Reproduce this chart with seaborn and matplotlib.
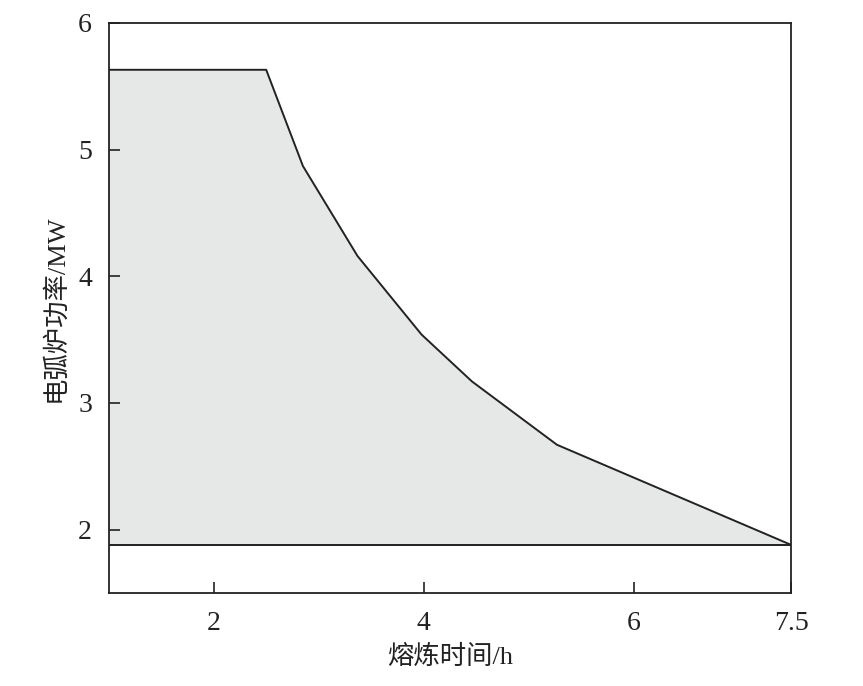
import matplotlib
matplotlib.use("Agg")
import matplotlib.pyplot as plt
import pandas as pd
import seaborn as sns

sns.set_style("white")
plt.rcParams['font.family'] = ['Liberation Serif', 'Noto Sans CJK SC']
plt.rcParams['axes.axisbelow'] = False  # keep inward ticks above the grey fill

melt_time = [1.0, 2.5, 2.85, 3.37, 3.98, 4.46, 5.27, 7.5]
eaf_power = [5.63, 5.63, 4.87, 4.16, 3.54, 3.17, 2.67, 1.88]
base_power = 1.88

x_ticks = [2, 4, 6, 7.5]
x_ticklabels = ['2', '4', '6', '7.5']
y_ticks = [2, 3, 4, 5, 6]

df = pd.DataFrame({'time': melt_time, 'power': eaf_power})

fig = plt.figure(figsize=(8.63, 6.86), dpi=100)
ax = fig.add_axes([0.126, 0.1356, 0.7906, 0.831])
ax.set_axisbelow(False)

ax.fill_between(df['time'], base_power, df['power'], color='#e6e7e7', linewidth=0)
sns.lineplot(x='time', y='power', data=df, color='#222222', linewidth=1.4, sort=False, ax=ax)
ax.axhline(base_power, color='#222222', linewidth=1.4)

ax.set_xlim(1, 7.5)
ax.set_ylim(1.5, 6)
ax.set_xticks(x_ticks)
ax.set_xticklabels(x_ticklabels)
ax.set_yticks(y_ticks)
ax.xaxis.set_ticks_position('bottom')
ax.yaxis.set_ticks_position('left')
ax.tick_params(axis='x', which='major', labelsize=20, length=8, width=1.2,
               colors='#222222', direction='in', pad=13)
ax.tick_params(axis='y', which='major', labelsize=20, length=8, width=1.2,
               colors='#222222', direction='in', pad=12)

for s in ax.spines.values():
    s.set_color('#222222')
    s.set_linewidth(1.3)

ax.set_xlabel('熔炼时间/h', fontsize=19, color='#222222', labelpad=6)
ax.set_ylabel('电弧炉功率/MW', fontsize=19, color='#222222', labelpad=8)

fig.savefig('out.png', dpi=100)
